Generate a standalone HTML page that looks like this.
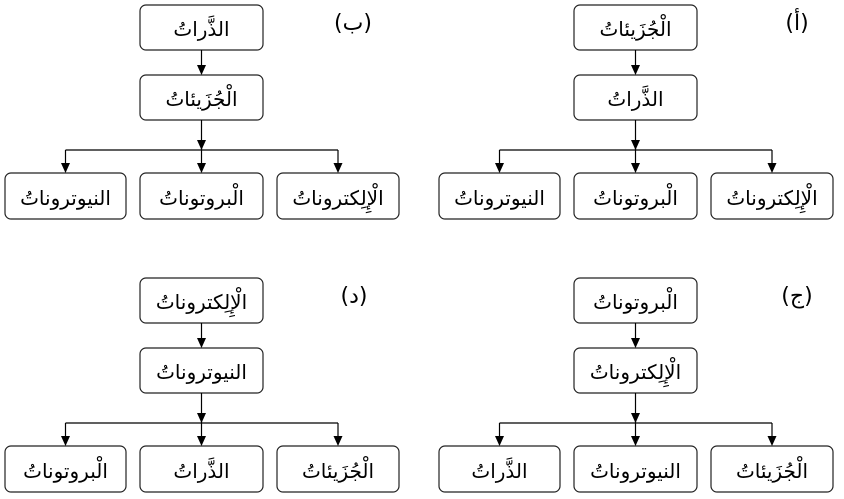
<!DOCTYPE html>
<html><head><meta charset="utf-8">
<style>
html,body{margin:0;padding:0;background:#fff;}
svg{display:block;}
text{font-family:"DejaVu Sans","Liberation Sans",sans-serif;font-size:20px;fill:#000;}
.l{font-size:22px;}
rect{fill:#fff;stroke:#222;stroke-width:1.2;}
line{stroke:#000;stroke-width:1.2;}
</style></head>
<body>
<svg width="844" height="499" viewBox="0 0 844 499" xmlns="http://www.w3.org/2000/svg">
<defs>
<g id="frame">
<rect x="140" y="5" width="123" height="45" rx="6"/>
<rect x="140" y="75" width="123" height="45" rx="6"/>
<rect x="5" y="173" width="121" height="46" rx="6"/>
<rect x="140" y="173" width="123" height="46" rx="6"/>
<rect x="277" y="173" width="122" height="46" rx="6"/>
<line x1="201.5" y1="50" x2="201.5" y2="66"/>
<polygon points="197,65 206,65 201.5,75" fill="#000"/>
<line x1="201.5" y1="120" x2="201.5" y2="164"/>
<polygon points="197,140 206,140 201.5,150" fill="#000"/>
<line x1="65.5" y1="150" x2="338" y2="150"/>
<line x1="65.5" y1="150" x2="65.5" y2="164"/>
<line x1="338" y1="150" x2="338" y2="164"/>
<polygon points="61,163 70,163 65.5,173" fill="#000"/>
<polygon points="197,163 206,163 201.5,173" fill="#000"/>
<polygon points="333.5,163 342.5,163 338,173" fill="#000"/>
</g>
</defs>

<g>
<use href="#frame"/>
<text x="201.5" y="36" text-anchor="middle" direction="rtl">الذَّراتُ</text>
<text x="201.5" y="106" text-anchor="middle" direction="rtl">الْجُزَيئاتُ</text>
<text x="65.5" y="205" text-anchor="middle" direction="rtl">النيوتروناتُ</text>
<text x="201.5" y="205" text-anchor="middle" direction="rtl">الْبروتوناتُ</text>
<text x="338" y="205" text-anchor="middle" direction="rtl">الْإِلِكتروناتُ</text>
<text class="l" x="353" y="30" text-anchor="middle">(ب)</text>
</g>

<g transform="translate(434,0)">
<use href="#frame"/>
<text x="201.5" y="36" text-anchor="middle" direction="rtl">الْجُزَيئاتُ</text>
<text x="201.5" y="106" text-anchor="middle" direction="rtl">الذَّراتُ</text>
<text x="65.5" y="205" text-anchor="middle" direction="rtl">النيوتروناتُ</text>
<text x="201.5" y="205" text-anchor="middle" direction="rtl">الْبروتوناتُ</text>
<text x="338" y="205" text-anchor="middle" direction="rtl">الْإِلِكتروناتُ</text>
<text class="l" x="363" y="30" text-anchor="middle">(أ)</text>
</g>

<g transform="translate(0,273)">
<use href="#frame"/>
<text x="201.5" y="36" text-anchor="middle" direction="rtl">الْإِلِكتروناتُ</text>
<text x="201.5" y="106" text-anchor="middle" direction="rtl">النيوتروناتُ</text>
<text x="65.5" y="205" text-anchor="middle" direction="rtl">الْبروتوناتُ</text>
<text x="201.5" y="205" text-anchor="middle" direction="rtl">الذَّراتُ</text>
<text x="338" y="205" text-anchor="middle" direction="rtl">الْجُزَيئاتُ</text>
<text class="l" x="354" y="30" text-anchor="middle">(د)</text>
</g>

<g transform="translate(434,273)">
<use href="#frame"/>
<text x="201.5" y="36" text-anchor="middle" direction="rtl">الْبروتوناتُ</text>
<text x="201.5" y="106" text-anchor="middle" direction="rtl">الْإِلِكتروناتُ</text>
<text x="65.5" y="205" text-anchor="middle" direction="rtl">الذَّراتُ</text>
<text x="201.5" y="205" text-anchor="middle" direction="rtl">النيوتروناتُ</text>
<text x="338" y="205" text-anchor="middle" direction="rtl">الْجُزَيئاتُ</text>
<text class="l" x="363" y="30" text-anchor="middle">(ج)</text>
</g>
</svg>
</body></html>
